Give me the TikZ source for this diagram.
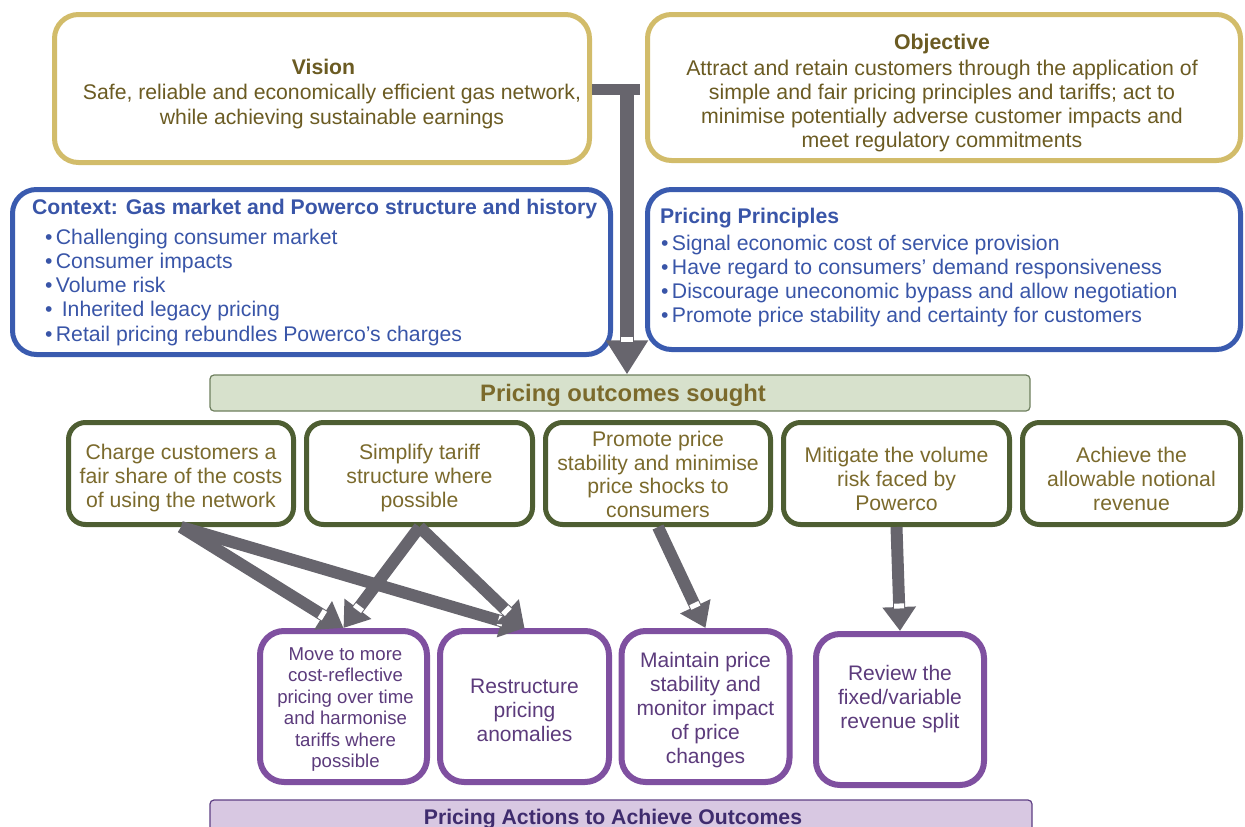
\documentclass[tikz,border=0pt]{standalone}
\usepackage{fontspec}
\setmainfont{Liberation Sans}
\usetikzlibrary{arrows.meta,decorations.markings}
\newcommand\myfs[2]{\fontsize{#1}{#2}\selectfont}
\definecolor{gold}{HTML}{D2BC6A}
\definecolor{olivetxt}{HTML}{6B5B22}
\definecolor{bluebd}{HTML}{3A5BAF}
\definecolor{bluetxt}{HTML}{3955A8}
\definecolor{greenbd}{HTML}{4E5E32}
\definecolor{outtxt}{HTML}{7B6A2C}
\definecolor{barfill}{HTML}{D7E1CC}
\definecolor{barbd}{HTML}{6E7F5E}
\definecolor{purplebd}{HTML}{7F50A0}
\definecolor{purpletxt}{HTML}{5C3B7C}
\definecolor{lavfill}{HTML}{D8C8E2}
\definecolor{lavbd}{HTML}{5E3F84}
\definecolor{lavtxt}{HTML}{3F2C6E}
\definecolor{arrgray}{HTML}{67656D}
\begin{document}
\begin{tikzpicture}[x=1pt,y=-1pt,
  goldbox/.style={draw=gold,line width=5pt,rounded corners=24pt,fill=white,inner sep=0pt},
  bluebox/.style={draw=bluebd,line width=5pt,rounded corners=24pt,fill=white},
  outbox/.style={draw=greenbd,line width=5pt,rounded corners=17pt,fill=white,inner sep=0pt,minimum height=102pt},
  outtext/.style={inner sep=0pt,text=outtxt,align=center,font=\myfs{21.2}{24}},
  actbox/.style={draw=purplebd,line width=6pt,rounded corners=24pt,fill=white,inner sep=0pt,
     minimum width=168pt,minimum height=151pt},
  acttext/.style={inner sep=0pt,text=purpletxt,align=center,font=\myfs{21}{24}},
  thinarrow/.style={draw=arrgray,line width=12pt,-{Triangle[length=24pt,width=32pt]},
     postaction={decorate,decoration={markings,mark=at position -25pt with {\fill[white] (-2.5,-5) rectangle (2.5,5);}}}},
  txt/.style={inner sep=0pt,outer sep=0pt}
]
\useasboundingbox (0,0) rectangle (1245,827);
% Top boxes
\node[goldbox,minimum width=535pt,minimum height=148pt] (vision) at (322,88.5) {};
\node[txt,text=olivetxt,align=center,font=\myfs{21.2}{25}] (visiontxt) at (332,94)
  {\textbf{Vision}\hspace*{17pt}\\Safe, reliable and economically efficient gas network,\\while achieving sustainable earnings};
\node[goldbox,minimum width=593pt,minimum height=146pt] (objective) at (944,87.5) {};
\node[txt,text=olivetxt,align=center,font=\myfs{21.3}{24}] (objtxt) at (942,93)
  {\textbf{Objective}\\[2pt]Attract and retain customers through the application of\\simple and fair pricing principles and tariffs; act to\\minimise potentially adverse customer impacts and\\meet regulatory commitments};
% Context & principles
\node[bluebox,minimum width=598pt,minimum height=165pt] (context) at (311.5,272) {};
\node[txt,anchor=base west,text=bluetxt,font=\bfseries\myfs{21.2}{24}] (ctxtitle) at (32,214) {Context: Gas market and Powerco structure and history};
\node[txt,anchor=base west,text=bluetxt,align=left,font=\myfs{21.2}{24.25}] (ctxlist) at (45,341)
  {\textbullet\,Challenging consumer market\\\textbullet\,Consumer impacts\\\textbullet\,Volume risk\\\textbullet\ \,Inherited legacy pricing\\\textbullet\,Retail pricing rebundles Powerco’s charges};
\node[bluebox,minimum width=593pt,minimum height=160pt] (principles) at (944,269.5) {};
\node[txt,anchor=base west,text=bluetxt,font=\bfseries\myfs{21.2}{24}] (prtitle) at (660,223) {Pricing Principles};
\node[txt,anchor=base west,text=bluetxt,align=left,font=\myfs{21.2}{24}] (prlist) at (661,322)
  {\textbullet\,Signal economic cost of service provision\\\textbullet\,Have regard to consumers’ demand responsiveness\\\textbullet\,Discourage uneconomic bypass and allow negotiation\\\textbullet\,Promote price stability and certainty for customers};
% Outcomes bar
\node[draw=barbd,line width=1.2pt,fill=barfill,rounded corners=4pt,minimum width=820pt,minimum height=36pt,inner sep=0pt] (outcomes) at (620,393) {};
\node[txt,text=outtxt,font=\bfseries\myfs{23.8}{26}] (outtitle) at (623,395) {Pricing outcomes sought};
% Big arrow
\fill[arrgray] (vision.east |- 0,84) rectangle (640,95);
\coordinate (bigtop) at (627,84);
\draw[arrgray,line width=14pt,-{Triangle[length=34pt,width=40pt]}] (bigtop) -- (bigtop |- outcomes.north);
\fill[white] (621,337) rectangle (633,342);
% Outcome boxes
\node[outbox,minimum width=225pt] (o1) at (181,473.5) {};
\node[outtext] (o1t) at (o1) [yshift=-5pt] {Charge customers a\\fair share of the costs\\of using the network};
\node[outbox,minimum width=226pt] (o2) at (419.5,473.5) {};
\node[outtext] (o2t) at (o2) [yshift=-5pt] {Simplify tariff\\structure where\\possible};
\node[outbox,minimum width=225pt] (o3) at (658,473.5) {};
\node[outtext,font=\myfs{21.2}{23.6}] (o3t) at (o3) [yshift=-1pt] {Promote price\\stability and minimise\\price shocks to\\consumers};
\node[outbox,minimum width=226pt] (o4) at (896.5,473.5) {};
\node[outtext] (o4t) at (o4) [yshift=-5pt] {Mitigate the volume\\risk faced by\\Powerco};
\node[outbox,minimum width=218pt] (o5) at (1131.5,473.5) {};
\node[outtext] (o5t) at (o5) [yshift=-5pt] {Achieve the\\allowable notional\\revenue};
% Action boxes
\node[actbox,minimum width=167pt] (a1) at (343.5,706.5) {};
\node[acttext,font=\myfs{18.6}{21.4}] (a1t) at (a1) [xshift=2pt,yshift=-3pt] {Move to more\\cost-reflective\\pricing over time\\and harmonise\\tariffs where\\possible};
\node[actbox,minimum width=169pt] (a2) at (524.5,706.5) {};
\node[acttext] (a2t) at (a2) [yshift=-4pt] {Restructure\\pricing\\anomalies};
\node[actbox] (a3) at (705.5,706.5) {};
\node[acttext] (a3t) at (a3) [yshift=-4pt] {Maintain price\\stability and\\monitor impact\\of price\\changes};
\node[actbox] (a4) at (900,709.5) {};
\node[acttext] (a4t) at (a4) [yshift=10pt] {Review the\\fixed/variable\\revenue split};
% Bottom bar
\node[draw=lavbd,line width=1.2pt,fill=lavfill,rounded corners=4pt,minimum width=822pt,minimum height=50pt,inner sep=0pt] (actions) at (621,825) {};
\node[txt,text=lavtxt,font=\bfseries\myfs{21.2}{24}] (acttitle) at (613,819) {Pricing Actions to Achieve Outcomes};
% Arrows
\draw[thinarrow] (o1.south) -- (a1.north);
\draw[thinarrow] (o1.south) -- (a2.north);
\draw[thinarrow] (o2.south) -- (a1.north);
\draw[thinarrow] (o2.south) -- (a2.north);
\draw[thinarrow] (o3.south) -- (a3.north);
\draw[thinarrow] (o4.south) -- (a4.north);
\end{tikzpicture}
\end{document}
